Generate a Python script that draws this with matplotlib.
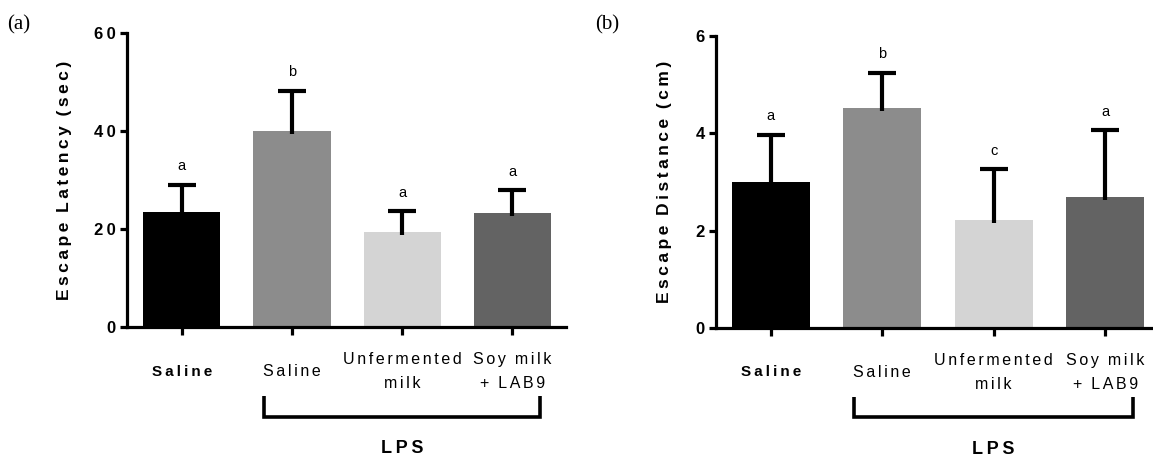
import matplotlib.pyplot as plt
from matplotlib import transforms

# data
groups = ['Saline', 'Saline', 'Unfermented\nmilk', 'Soy milk\n+ LAB9']
bold_group = [True, False, False, False]
colors = ['#000000', '#8c8c8c', '#d4d4d4', '#636363']

latency = [23.5, 40.0, 19.4, 23.3]
latency_err = [5.5, 8.2, 4.2, 4.6]
latency_sig = ['a', 'b', 'a', 'a']

distance = [3.0, 4.53, 2.22, 2.70]
distance_err = [0.97, 0.72, 1.04, 1.36]
distance_sig = ['a', 'b', 'c', 'a']

plt.rcParams['font.family'] = ['Liberation Sans', 'DejaVu Sans']


def spaced(s, gap='\u2009'):
    # wide letter spacing like the original figure
    lines = []
    for line in s.split('\n'):
        words = [gap.join(w) for w in line.split(' ')]
        lines.append('  '.join(words))
    return '\n'.join(lines)


def panel(ax, vals, errs, sig, ymax, step, ylabel, xlim, ylab_x):
    x = list(range(len(vals)))
    tops = [v + e for v, e in zip(vals, errs)]
    ax.bar(x, vals, width=0.70, color=colors, zorder=2)
    # upper-only error bars: stem + cap
    ax.vlines(x, [v - ymax * 0.01 for v in vals], tops, color='black', lw=3, zorder=3)
    ax.plot(x, tops, linestyle='none', marker='_', markersize=20, mew=3,
            color='black', zorder=3, clip_on=False)
    for i in x:
        ax.text(i, tops[i] + ymax * 0.04, sig[i], ha='center', va='bottom',
                fontsize=10.5)
    ax.set_ylim(0, ymax)
    ax.set_xlim(*xlim)
    ax.set_yticks(range(0, ymax + 1, step))
    ax.set_yticklabels([spaced(str(v)) for v in range(0, ymax + 1, step)],
                       fontweight='bold', fontsize=12)
    ax.set_xticks(x)
    ax.set_xticklabels([])
    for s in ['top', 'right']:
        ax.spines[s].set_visible(False)
    for s in ['left', 'bottom']:
        ax.spines[s].set_linewidth(2.3)
    ax.tick_params(axis='y', length=5, width=2.3, pad=3)
    ax.tick_params(axis='x', length=6, width=2.3)
    ax.set_ylabel(spaced(ylabel), fontweight='bold', fontsize=12.5)
    ax.yaxis.set_label_coords(ylab_x, 0.5)

    trans = transforms.blended_transform_factory(ax.transData, ax.transAxes)
    for i, g in enumerate(groups):
        if bold_group[i]:
            ax.text(i, -0.152, spaced(g), transform=trans, ha='center', va='center',
                    fontsize=11, fontweight='bold')
        else:
            ax.text(i, -0.152, spaced(g, '\u2006'), transform=trans, ha='center',
                    va='center', fontsize=11.5, linespacing=1.75)
    ax.plot([0.75, 0.75, 3.25, 3.25], [-0.235, -0.305, -0.305, -0.235],
            transform=trans, color='black', lw=2.6, clip_on=False,
            solid_joinstyle='miter', solid_capstyle='butt')
    ax.text(2.0, -0.415, spaced('LPS'), transform=trans, ha='center', va='center',
            fontsize=13, fontweight='bold')


fig = plt.figure(figsize=(11.53, 4.59), dpi=100)
ax1 = fig.add_axes([0.110, 0.2876, 0.381, 0.6405])
ax2 = fig.add_axes([0.621, 0.2854, 0.379, 0.636])

panel(ax1, latency, latency_err, latency_sig, 60, 20, 'Escape Latency (sec)',
      (-0.5, 3.49), -0.125)
panel(ax2, distance, distance_err, distance_sig, 6, 2, 'Escape Distance (cm)',
      (-0.49, 3.43), -0.10)

fig.text(0.006, 0.945, '(a)', family=['Liberation Serif', 'DejaVu Serif'], fontsize=15,
         va='center')
fig.text(0.516, 0.945, '(b)', family=['Liberation Serif', 'DejaVu Serif'], fontsize=15,
         va='center')

fig.savefig('out.png', dpi=100)
